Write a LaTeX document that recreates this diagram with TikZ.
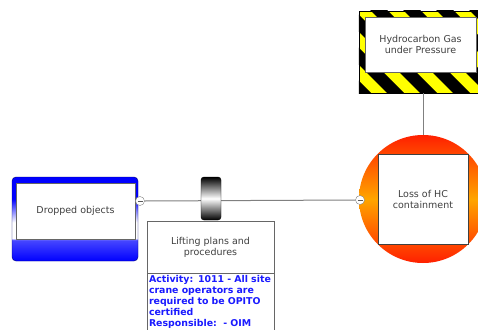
\documentclass[tikz,border=0pt]{standalone}
\usepackage{fontspec}
\setmainfont{DejaVu Sans}
\usetikzlibrary{positioning}

\definecolor{labelgray}{HTML}{404040}
\definecolor{edgegray}{HTML}{666666}
\definecolor{linegray}{HTML}{808080}
\definecolor{hazyellow}{HTML}{FFFF00}
\definecolor{fireorange}{HTML}{FFA500}
\definecolor{firered}{HTML}{FF2000}
\definecolor{activityblue}{HTML}{1A1AFF}

\pgfdeclareverticalshading{threatshade}{100bp}{color(0bp)=(blue); color(25bp)=(blue); color(37.5bp)=(blue!72); color(38.5bp)=(white); color(48bp)=(white); color(62bp)=(blue); color(100bp)=(blue)}

\tikzset{
  boxtext/.style={font=\fontsize{9.5}{11}\selectfont, text=labelgray, align=center},
  whitebox/.style={rectangle, draw=edgegray, fill=white, inner sep=0pt, boxtext},
  connector/.style={draw=linegray, line width=1pt},
  knob/.style={circle, draw=linegray, fill=white, minimum size=9pt, inner sep=0pt,
    path picture={\draw[linegray!70!black, line width=0.8pt] ([xshift=2pt]path picture bounding box.west) -- ([xshift=-2pt]path picture bounding box.east);}},
  barrierbox/.style={rectangle, rounded corners=3pt, draw=black, minimum width=20pt, minimum height=43pt,
    top color=black, bottom color=black, middle color=white, inner sep=0pt},
  activitybox/.style={rectangle, draw=edgegray, fill=white, text width=123pt, inner sep=2pt, align=left,
    font=\fontsize{9.4}{11}\selectfont\bfseries, text=activityblue}
}

\begin{document}
\begin{tikzpicture}[x=1pt,y=-1pt]
\clip (0,0) rectangle (478,329);
\fill[white] (0,0) rectangle (478,329);

% hazard with striped frame
\node[rectangle, draw=black, minimum width=128pt, minimum height=82pt, inner sep=0pt] (hazardframe) at (423,52) {};
\begin{scope}
  \clip (hazardframe.north west) rectangle (hazardframe.south east);
  \fill[hazyellow] (hazardframe.north west) rectangle (hazardframe.south east);
  \foreach \k in {-2,...,7}
    \fill[black] (294+33*\k,0) -- ++(17,0) -- ++(100,100) -- ++(-17,0) -- cycle;
\end{scope}
\draw[black] (hazardframe.north west) rectangle (hazardframe.south east);
\node[whitebox, minimum width=111pt, minimum height=55pt] (hazard) at (420.5,44.5) {Hydrocarbon Gas\\under Pressure};

% top event
\node[circle, minimum size=128pt, inner sep=0pt, top color=firered, bottom color=firered, middle color=fireorange] (topcircle) at (423,199) {};
\node[whitebox, draw=labelgray, minimum width=90pt, minimum height=90pt] (topevent) at (423,199) {Loss of HC\\containment};
\draw[connector] (hazardframe.south) -- (topcircle.north);

% threat
\node[rectangle, rounded corners=4pt, draw=blue!45!black, minimum width=126pt, minimum height=84pt, inner sep=0pt, shading=threatshade] (threatframe) at (75,219) {};
\node[whitebox, minimum width=119pt, minimum height=56pt] (threat) at (75.5,211) {Dropped objects};

% knobs and main line
\node[knob] (threatknob) at (140,201) {};
\node[knob] (topknob) at (360,200) {};
\draw[connector] (threatknob.east) -- (topknob.west);

% barrier
\node[barrierbox] (barrier) at (211,198.5) {};
\node[whitebox, minimum width=127pt, minimum height=52pt] (control) at (210.5,247) {Lifting plans and\\procedures};
\node[activitybox, anchor=north west] (activity) at (control.south west) {Activity: 1011 - All site\\crane operators are\\required to be OPITO\\certified\\Responsible:~~- OIM\\ };
\end{tikzpicture}
\end{document}
